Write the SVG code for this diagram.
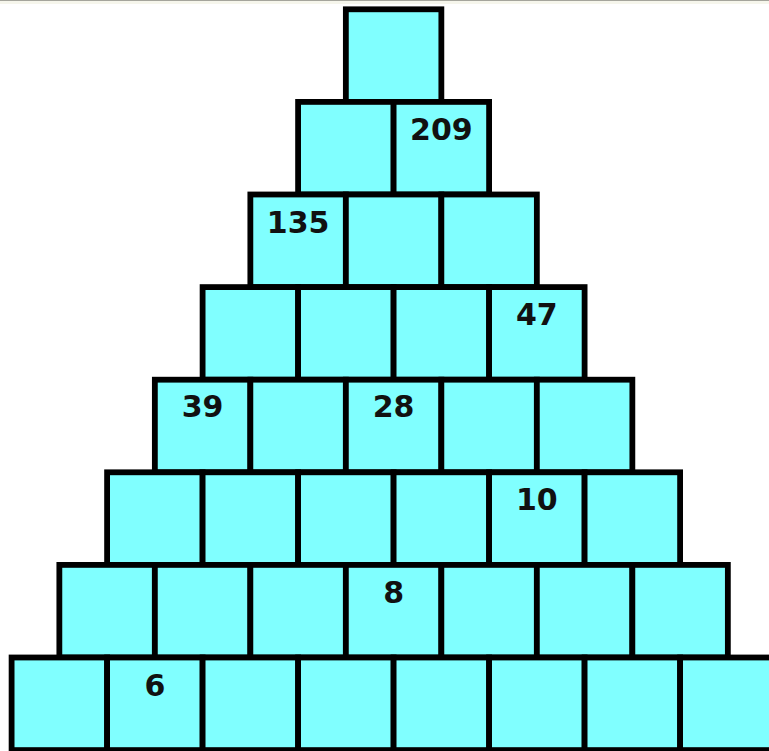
<svg xmlns="http://www.w3.org/2000/svg" width="769" height="751" viewBox="0 0 769 751">
<style>
.b{fill:#80ffff;stroke:#000;stroke-width:5.8}
.t{font-family:"DejaVu Sans","Verdana",sans-serif;font-weight:bold;font-size:30px;fill:#111;text-anchor:middle}
</style>
<rect x="0" y="0" width="769" height="751" fill="#ffffff"/>
<rect x="0" y="0" width="769" height="1" fill="#a5a59c"/>
<rect x="0" y="1" width="769" height="3" fill="#f6f6ec"/>
<g id="row1">
<g id="r1c1"><rect class="b" x="345.85" y="9.3" width="95.5" height="92.6"/></g>
</g>
<g id="row2">
<g id="r2c1"><rect class="b" x="298.1" y="101.9" width="95.5" height="92.6"/></g>
<g id="r2c2"><rect class="b" x="393.6" y="101.9" width="95.5" height="92.6"/><text class="t" x="441.35" y="140">209</text></g>
</g>
<g id="row3">
<g id="r3c1"><rect class="b" x="250.35" y="194.5" width="95.5" height="92.6"/><text class="t" x="298.1" y="232.5">135</text></g>
<g id="r3c2"><rect class="b" x="345.85" y="194.5" width="95.5" height="92.6"/></g>
<g id="r3c3"><rect class="b" x="441.35" y="194.5" width="95.5" height="92.6"/></g>
</g>
<g id="row4">
<g id="r4c1"><rect class="b" x="202.6" y="287.1" width="95.5" height="92.6"/></g>
<g id="r4c2"><rect class="b" x="298.1" y="287.1" width="95.5" height="92.6"/></g>
<g id="r4c3"><rect class="b" x="393.6" y="287.1" width="95.5" height="92.6"/></g>
<g id="r4c4"><rect class="b" x="489.1" y="287.1" width="95.5" height="92.6"/><text class="t" x="536.85" y="325">47</text></g>
</g>
<g id="row5">
<g id="r5c1"><rect class="b" x="154.85" y="379.7" width="95.5" height="92.6"/><text class="t" x="202.6" y="417">39</text></g>
<g id="r5c2"><rect class="b" x="250.35" y="379.7" width="95.5" height="92.6"/></g>
<g id="r5c3"><rect class="b" x="345.85" y="379.7" width="95.5" height="92.6"/><text class="t" x="393.6" y="417">28</text></g>
<g id="r5c4"><rect class="b" x="441.35" y="379.7" width="95.5" height="92.6"/></g>
<g id="r5c5"><rect class="b" x="536.85" y="379.7" width="95.5" height="92.6"/></g>
</g>
<g id="row6">
<g id="r6c1"><rect class="b" x="107.1" y="472.3" width="95.5" height="92.6"/></g>
<g id="r6c2"><rect class="b" x="202.6" y="472.3" width="95.5" height="92.6"/></g>
<g id="r6c3"><rect class="b" x="298.1" y="472.3" width="95.5" height="92.6"/></g>
<g id="r6c4"><rect class="b" x="393.6" y="472.3" width="95.5" height="92.6"/></g>
<g id="r6c5"><rect class="b" x="489.1" y="472.3" width="95.5" height="92.6"/><text class="t" x="536.85" y="510">10</text></g>
<g id="r6c6"><rect class="b" x="584.6" y="472.3" width="95.5" height="92.6"/></g>
</g>
<g id="row7">
<g id="r7c1"><rect class="b" x="59.35" y="564.9" width="95.5" height="92.6"/></g>
<g id="r7c2"><rect class="b" x="154.85" y="564.9" width="95.5" height="92.6"/></g>
<g id="r7c3"><rect class="b" x="250.35" y="564.9" width="95.5" height="92.6"/></g>
<g id="r7c4"><rect class="b" x="345.85" y="564.9" width="95.5" height="92.6"/><text class="t" x="393.6" y="603">8</text></g>
<g id="r7c5"><rect class="b" x="441.35" y="564.9" width="95.5" height="92.6"/></g>
<g id="r7c6"><rect class="b" x="536.85" y="564.9" width="95.5" height="92.6"/></g>
<g id="r7c7"><rect class="b" x="632.35" y="564.9" width="95.5" height="92.6"/></g>
</g>
<g id="row8">
<g id="r8c1"><rect class="b" x="11.6" y="657.5" width="95.5" height="92.6"/></g>
<g id="r8c2"><rect class="b" x="107.1" y="657.5" width="95.5" height="92.6"/><text class="t" x="154.85" y="696">6</text></g>
<g id="r8c3"><rect class="b" x="202.6" y="657.5" width="95.5" height="92.6"/></g>
<g id="r8c4"><rect class="b" x="298.1" y="657.5" width="95.5" height="92.6"/></g>
<g id="r8c5"><rect class="b" x="393.6" y="657.5" width="95.5" height="92.6"/></g>
<g id="r8c6"><rect class="b" x="489.1" y="657.5" width="95.5" height="92.6"/></g>
<g id="r8c7"><rect class="b" x="584.6" y="657.5" width="95.5" height="92.6"/></g>
<g id="r8c8"><rect class="b" x="680.1" y="657.5" width="95.5" height="92.6"/></g>
</g>
<g id="connectors"></g>
</svg>
